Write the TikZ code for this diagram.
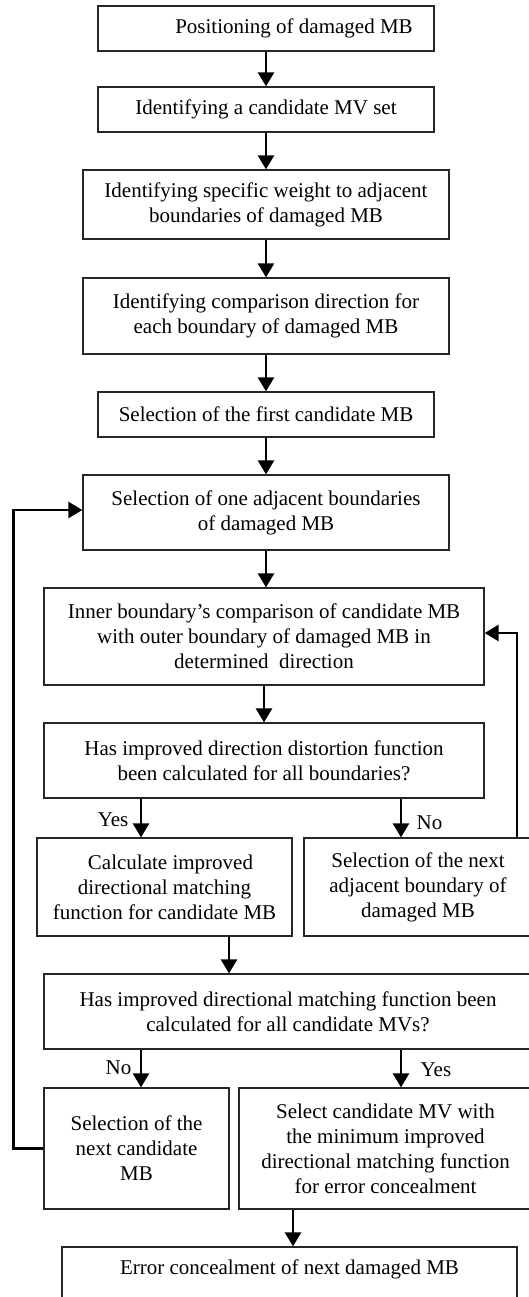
\documentclass[tikz,border=0pt]{standalone}
\usepackage{fontspec}
\setmainfont{Liberation Serif}
\usetikzlibrary{arrows.meta,calc}
\tikzset{box/.style={draw=black!85,line width=1.3pt,align=center,inner sep=0pt,
    font=\fontsize{21}{25}\selectfont},
  arr/.style={line width=2.6pt,-{Triangle[length=14pt,width=16pt]}},
  lbl/.style={font=\fontsize{21}{25}\selectfont}}

\begin{document}
\begin{tikzpicture}[x=1pt,y=-1pt]
      \useasboundingbox (0,0) rectangle (529,1297);
      \node[box,minimum width=336pt,minimum height=45pt] (pos) at (266,28.5) {\hspace*{56pt}Positioning of damaged MB};
      \node[box,minimum width=336pt,minimum height=45pt] (cand) at (266,109.5) {Identifying a candidate MV set};
      \node[box,minimum width=366pt,minimum height=69pt] (weight) at (266,204.5) {Identifying specific weight to adjacent\\boundaries of damaged MB};
      \node[box,minimum width=366pt,minimum height=76pt] (dir) at (266,316) {Identifying comparison direction for\\each boundary of damaged MB};
      \node[box,minimum width=336pt,minimum height=45pt] (first) at (266,414.5) {Selection of the first candidate MB};
      \node[box,minimum width=366pt,minimum height=75pt] (onebd) at (266,512.5) {Selection of one adjacent boundaries\\of damaged MB};
      \node[box,minimum width=440pt,minimum height=97pt] (inner) at (264,636.5) {Inner boundary's comparison of candidate MB\\with outer boundary of damaged MB in\\determined~~direction};
      \node[box,minimum width=440pt,minimum height=75pt] (qbd) at (264,760.5) {Has improved direction distortion function\\been calculated for all boundaries?};
      \node[box,minimum width=255pt,minimum height=98pt] (calc) at (164.5,887) {\hspace*{12pt}Calculate improved\\directional matching\\function for candidate MB};
      \node[box,minimum width=228pt,minimum height=98pt] (nextbd) at (418,887) {Selection of the next\\adjacent boundary of\\damaged MB};
      \node[box,minimum width=488pt,minimum height=75pt] (qmv) at (288,1011.5) {Has improved directional matching function been\\calculated for all candidate MVs?};
      \node[box,minimum width=185pt,minimum height=121pt] (nextmb) at (136.5,1148.5) {Selection of the\\next candidate\\MB};
      \node[box,minimum width=293pt,minimum height=121pt] (best) at (385.5,1148.5) {Select candidate MV with\\the minimum improved\\directional matching function\\for error concealment};
      \node[box,minimum width=455pt,minimum height=53pt,text depth=12pt] (err) at (289.5,1273.5) {Error concealment of next damaged MB};

      \draw[arr] (pos) -- (cand);
      \draw[arr] (cand) -- (weight);
      \draw[arr] (weight) -- (dir);
      \draw[arr] (dir) -- (first);
      \draw[arr] (first) -- (onebd);
      \draw[arr] (onebd.south) -- (onebd.south |- inner.north);
      \draw[arr] (inner.south) -- (inner.south |- qbd.north);
      \draw[arr] ([xshift=-123pt]qbd.south) -- ([xshift=-123pt]qbd.south |- calc.north) node[lbl,left,pos=0.55,xshift=-8pt] {Yes};
      \draw[arr] ([xshift=137pt]qbd.south) -- ([xshift=137pt]qbd.south |- nextbd.north) node[lbl,right,pos=0.62,xshift=11pt] {No};
      \draw[arr] ([xshift=64.5pt]calc.south) -- ([xshift=64.5pt]calc.south |- qmv.north);
      \draw[arr] ([xshift=-147pt]qmv.south) -- ([xshift=-147pt]qmv.south |- nextmb.north) node[lbl,left,pos=0.49,xshift=-5pt] {No};
      \draw[arr] ([xshift=113pt]qmv.south) -- ([xshift=113pt]qmv.south |- best.north) node[lbl,right,pos=0.54,xshift=15pt] {Yes};
      \draw[arr] ([xshift=-92.5pt]best.south) -- ([xshift=-92.5pt]best.south |- err.north);
      % loops back
      \draw[arr] (nextmb.west) -- ++(-30,0) |- ([yshift=2.5pt]onebd.west);
      \draw[arr] ([xshift=99pt]nextbd.north) |- ([yshift=3.5pt]inner.east);
    \end{tikzpicture}
\end{document}
